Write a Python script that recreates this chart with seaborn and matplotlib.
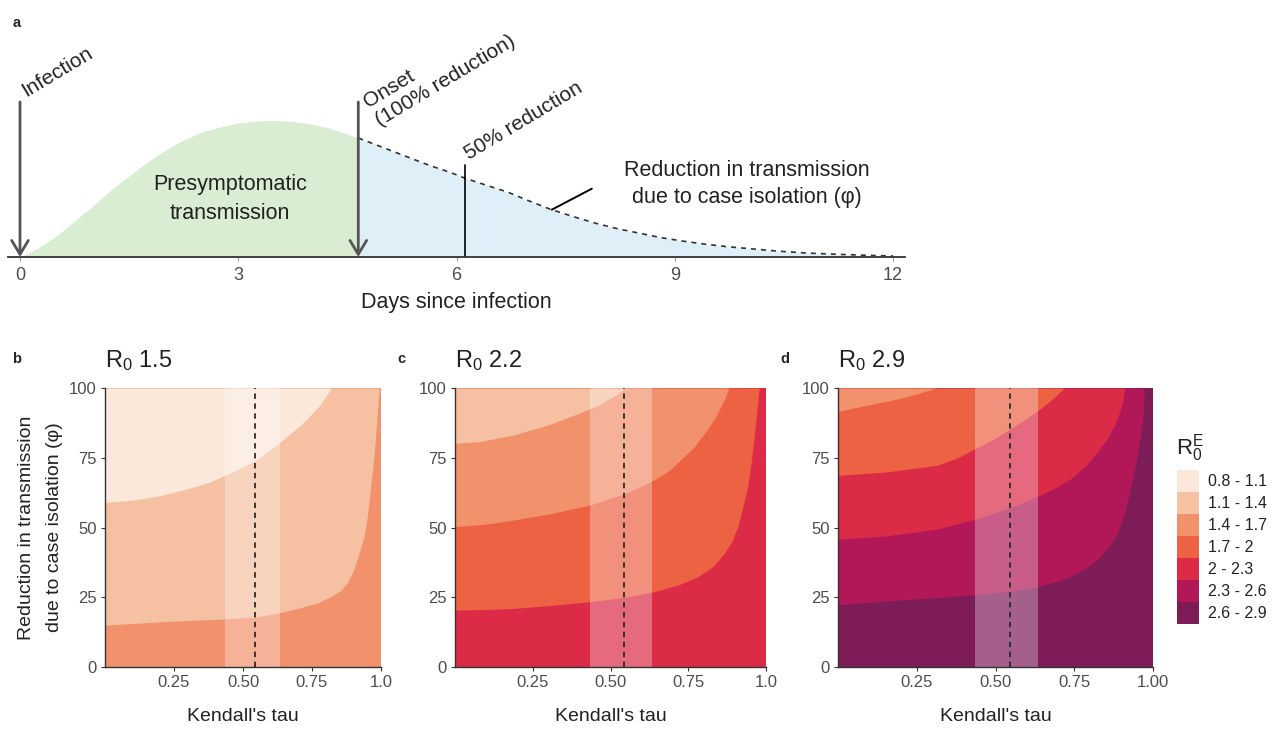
import numpy as np
import matplotlib
matplotlib.use("Agg")
import matplotlib.pyplot as plt
import seaborn as sns

# ---- panel a: infectiousness profile (arbitrary units) ----
days = [0, 0.25, 0.5, 0.75, 1.0, 1.25, 1.5, 1.75, 2.0, 2.25, 2.5, 2.75, 3.0,
        3.25, 3.5, 3.75, 4.0, 4.25, 4.5, 4.65, 4.9, 5.15, 5.4, 5.65, 5.9,
        6.11, 6.4, 6.7, 7.0, 7.3, 7.6, 7.9, 8.2, 8.5, 8.8, 9.1, 9.4, 9.7,
        10.0, 10.4, 10.8, 11.2, 11.6, 12.0]
infectiousness = [0, 9, 21, 36, 51, 67, 81, 95, 107, 117, 125, 130, 134,
                  136, 136.5, 135.5, 133, 129, 123, 119, 112, 105, 98, 91, 85,
                  79, 72, 65, 56, 47.5, 40.5, 34, 28.5, 24, 19.5, 16, 13, 10.5,
                  8.5, 6, 4, 2.8, 1.8, 1]
onset_day = 4.65
half_reduction_day = 6.11
day_ticks = [0, 3, 6, 9, 12]

# ---- panels b-d: R0^E bins and contour boundaries (tau, phi) ----
r_bins = ["0.8 - 1.1", "1.1 - 1.4", "1.4 - 1.7", "1.7 - 2",
          "2 - 2.3", "2.3 - 2.6", "2.6 - 2.9"]
tau_ticks = [0.25, 0.50, 0.75, 1.0]
phi_ticks = [0, 25, 50, 75, 100]
tau_band = (0.435, 0.635)
tau_observed = 0.545

# R0 = 1.5
b_tau_14 = [0, .1, .22, .33, .43, .55, .635, .7, .77, .82, .854, .878, .9,
            .921, .939, .949, .963, .976, .985, .994]
b_phi_14 = [15, 15.6, 16.3, 16.8, 17.2, 18, 19.5, 21, 23, 25.3, 27.4, 30.2, 34.5,
            41, 47, 53, 65, 77, 89, 100]
b_tau_11 = [0, .1, .2, .3, .38, .434, .49, .544, .59, .635, .67, .71, .745,
            .78, .80, .82]
b_phi_11 = [59, 59.8, 61.4, 63.9, 66.3, 68.7, 71.2, 74, 77.2, 80.7, 83.5, 86.7,
            90.2, 94, 97, 100]

# R0 = 2.2
c_tau_20 = [0, .1, .19, .3, .435, .55, .64, .72, .78, .83, .866, .89, .909,
            .925, .941, .952, .962, .97, .978]
c_phi_20 = [20.4, 20.6, 21, 22, 23.4, 25.1, 27, 29.5, 32.3, 36, 40.7, 45, 50.3,
            57, 64.7, 73, 82.6, 91, 100]
c_tau_17 = [0, .1, .19, .3, .435, .55, .64, .69, .726, .77, .81, .84, .866, .88]
c_phi_17 = [50.3, 51.2, 52.7, 54.8, 58.1, 62.3, 67, 70.5, 74.3, 79, 85, 90,
            95.8, 100]
c_tau_14 = [0, .08, .19, .3, .4, .46, .51, .55]
c_phi_14 = [80.2, 80.8, 83.2, 86.8, 91, 93.8, 97, 100]

# R0 = 2.9
d_tau_26 = [0, .1, .207, .33, .436, .548, .638, .69, .739, .785, .824, .86,
            .888, .912, .931, .952, .968, .973]
d_phi_26 = [22.3, 23.2, 24.1, 25, 25.9, 27.1, 28.9, 30.5, 32.5, 35.3, 38.6, 43,
            48.2, 56, 65, 77.1, 89.2, 100]
d_tau_23 = [0, .154, .314, .436, .548, .638, .69, .739, .785, .824, .855, .878,
            .895, .904, .91]
d_phi_23 = [45.8, 47, 49.4, 53, 57.2, 61.4, 64.2, 67.5, 72, 77.1, 82, 86.7,
            91.5, 95.2, 100]
d_tau_20 = [0, .154, .314, .38, .436, .5, .548, .6, .638, .675, .707, .718]
d_phi_20 = [68.7, 69.9, 72.3, 75, 78.3, 82, 85.5, 89.2, 92.2, 95.5, 98.8, 100]
d_tau_17 = [0, .048, .1, .154, .21, .26, .31]
d_phi_17 = [91.6, 92.8, 94, 95.2, 96.6, 98.2, 100]

panels = [
    # letter, R0 label, bin of the bottom-right region, boundaries (bin above, tau, phi)
    ("b", "1.5", 2, [(1, b_tau_14, b_phi_14), (0, b_tau_11, b_phi_11)], "1.0"),
    ("c", "2.2", 4, [(3, c_tau_20, c_phi_20), (2, c_tau_17, c_phi_17),
                     (1, c_tau_14, c_phi_14)], "1.0"),
    ("d", "2.9", 6, [(5, d_tau_26, d_phi_26), (4, d_tau_23, d_phi_23),
                     (3, d_tau_20, d_phi_20), (2, d_tau_17, d_phi_17)], "1.00"),
]

bin_colors = ["#fbe8da", "#f5c1a2", "#f1926c", "#ec6243",
              "#dc2b46", "#b21858", "#7e1c58"]

sns.set_theme(style="ticks")
plt.rcParams["font.family"] = ["Liberation Sans", "DejaVu Sans"]
plt.rcParams["mathtext.fontset"] = "custom"
plt.rcParams["mathtext.rm"] = "Liberation Sans"
plt.rcParams["mathtext.it"] = "Liberation Sans:italic"

W, H = 1273, 731
fig = plt.figure(figsize=(W / 100, H / 100), dpi=100)


def px_axes(left, top, right, bottom):
    return fig.add_axes([left / W, 1 - bottom / H, (right - left) / W, (bottom - top) / H])


text_col = "#222222"
grey = "#4d4d4d"

# ---------------- panel a ----------------
ax = px_axes(8, 30, 905, 257)
d = np.array(days)
y = np.array(infectiousness)
pre = d <= onset_day
post = d >= onset_day
ax.fill_between(d[pre], y[pre], color="#d9edd2", lw=0)
ax.fill_between(d[post], y[post], color="#dfeff8", lw=0)
sns.lineplot(x=d[post], y=y[post], ax=ax, color="#333333", lw=1.2,
             linestyle=(0, (3, 3)))
ax.set_xlim(-12 / 72.75, 885 / 72.75)
ax.set_ylim(0, 227)

for x0 in [0, onset_day]:
    ax.annotate("", xy=(x0, 0), xytext=(x0, 155),
                arrowprops=dict(arrowstyle="->,head_length=0.5,head_width=0.3",
                                color="#555555", lw=2, shrinkA=0, shrinkB=0,
                                mutation_scale=20))
ax.plot([half_reduction_day, half_reduction_day], [0, 92], color="black", lw=1.2)
ax.plot([7.31, 7.86], [47.3, 68.3], color="black", lw=1.4)

rot = 31
ax.text(0.09, 160, "Infection", rotation=rot, rotation_mode="anchor",
        ha="left", va="baseline", fontsize=15, color=text_col)
ax.text(4.97, 127, "Onset\n(100% reduction)", rotation=rot, rotation_mode="anchor",
        ha="left", va="bottom", fontsize=15, color=text_col, linespacing=1.2)
ax.text(6.17, 97, "50% reduction", rotation=rot, rotation_mode="anchor",
        ha="left", va="baseline", fontsize=15, color=text_col)
ax.text(2.89, 58, "Presymptomatic\ntransmission", ha="center", va="center",
        fontsize=15.5, color=text_col, linespacing=1.45)
ax.text(9.99, 73, "Reduction in transmission\ndue to case isolation (φ)",
        ha="center", va="center", fontsize=15.5, color=text_col, linespacing=1.35)

for s in ["left", "top", "right"]:
    ax.spines[s].set_visible(False)
ax.spines["bottom"].set_color("#333333")
ax.spines["bottom"].set_linewidth(1.3)
ax.set_yticks([])
ax.set_xticks(day_ticks)
ax.set_xticklabels([str(t) for t in day_ticks])
ax.tick_params(axis="x", length=3, width=0.8, color="#999999", labelsize=13,
               labelcolor=grey, pad=4)
ax.set_xlabel("Days since infection", fontsize=15.5, color=text_col, labelpad=6)
fig.text(17 / W, 1 - 23 / H, "a", fontsize=10.5, weight="bold", ha="center", va="center")

# ---------------- panels b-d ----------------
boxes = [(105, 381), (455, 766), (838, 1153)]
letter_x = [17, 401, 785]
for (letter, r0, base, bounds, last_lab), (x0, x1), lx in zip(panels, boxes, letter_x):
    ax = px_axes(x0, 388, x1, 667)
    ax.fill_between([0, 1], [0, 0], [100, 100], color=bin_colors[base], lw=0)
    for idx, tau, phi in bounds:
        ax.fill_between(tau, phi, 100, color=bin_colors[idx], lw=0)
    ax.axvspan(*tau_band, color="white", alpha=0.3, lw=0)
    ax.axvline(tau_observed, color="#2a2a2a", lw=1.3, ls=(0, (3, 2.5)))
    ax.set_xlim(0, 1)
    ax.set_ylim(0, 100)
    ax.set_xticks(tau_ticks)
    ax.set_xticklabels(["0.25", "0.50", "0.75", last_lab])
    ax.set_yticks(phi_ticks)
    sns.despine(ax=ax)
    for s in ["left", "bottom"]:
        ax.spines[s].set_color("#333333")
        ax.spines[s].set_linewidth(1.0)
    ax.tick_params(length=3, width=0.8, color="#333333", labelsize=12,
                   labelcolor=grey, pad=3)
    ax.set_xlabel("Kendall's tau", fontsize=14, color=text_col, labelpad=13)
    ax.set_title(r"$\mathregular{R_0}$ " + r0, loc="left", fontsize=17,
                 color=text_col, pad=15)
    fig.text(lx / W, 1 - 359 / H, letter, fontsize=10.5, weight="bold",
             ha="center", va="center")
    if letter == "b":
        ax.set_ylabel("Reduction in transmission\ndue to case isolation (φ)",
                      fontsize=14, color=text_col, labelpad=4, linespacing=1.85)

# ---------------- legend ----------------
lax = px_axes(1177, 470, 1199, 624)
lax.barh(range(len(bin_colors)), 1, height=1.0, left=0, color=bin_colors, lw=0)
lax.set_xlim(0, 1)
lax.set_ylim(len(bin_colors) - 0.5, -0.5)
lax.axis("off")
for i, lab in enumerate(r_bins):
    lax.text(1.42, i, lab, ha="left", va="center", fontsize=11.5, color=text_col)
fig.text(1176 / W, 1 - 454 / H, r"$\mathregular{R_0^E}$", fontsize=16,
         color=text_col, ha="left", va="baseline")

fig.savefig("out.png", dpi=100, facecolor="white")
